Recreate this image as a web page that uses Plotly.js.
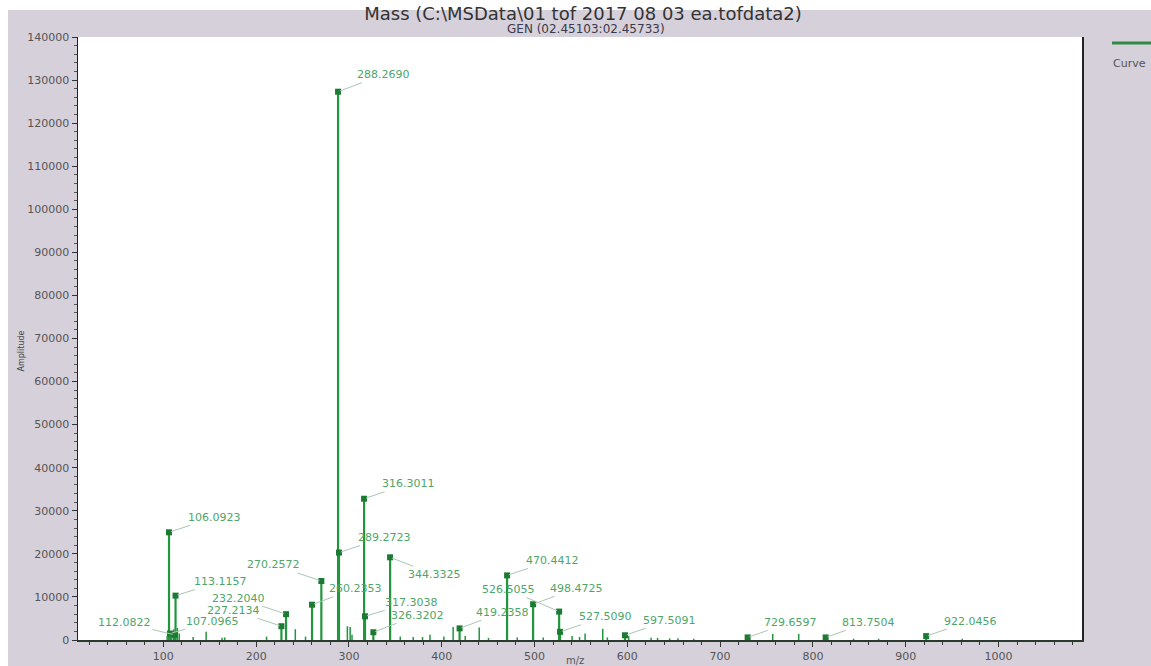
<!DOCTYPE html>
<html>
<head>
<meta charset="utf-8">
<script src="https://cdn.plot.ly/plotly-3.0.1.min.js"></script>
<style>
  html, body { margin: 0; padding: 0; background: #ffffff; }
  #chart { width: 1151px; height: 666px; }
</style>
</head>
<body>
<div id="chart"></div>
<script>
// ---- Data ----
const labelledMz = [106.0923, 107.0965, 112.0822, 113.1157, 227.2134, 232.2040, 260.2353, 270.2572,
  288.2690, 289.2723, 316.3011, 317.3038, 326.3202, 344.3325, 419.2358, 470.4412,
  498.4725, 526.5055, 527.5090, 597.5091, 729.6597, 813.7504, 922.0456];
const labelledAmp = [25000, 1500, 1200, 10300, 3200, 6000, 8200, 13700,
  127300, 20300, 32800, 5500, 1800, 19200, 2700, 15000,
  8300, 6600, 1900, 1100, 600, 600, 900];

const otherMz = [104.1, 109.1, 111.1, 115.1, 117.1, 132.1, 146.1, 163.2, 166.2, 211.2, 242.2, 253.2,
  298.3, 301.3, 303.3, 355.3, 369.3, 379.3, 387.3, 402.3, 412.3, 425.3, 440.4, 450.4,
  481.4, 509.4, 540.5, 548.5, 554.5, 573.5, 578.5, 601.5, 625.6, 632.6, 645.6, 654.6,
  671.6, 756.7, 784.7, 843.8, 870.8, 960.9];
const otherAmp = [900, 1500, 2500, 2800, 1500, 700, 1900, 500, 600, 800, 2500, 800,
  3200, 3000, 1200, 800, 700, 700, 1200, 800, 3000, 900, 2900, 500,
  600, 600, 900, 700, 1500, 2600, 600, 900, 500, 500, 400, 400,
  300, 1400, 1400, 300, 300, 300];

const titleText = 'Mass (C:\\MSData\\01 tof 2017 08 03 ea.tofdata2)';
const subtitleText = 'GEN (02.45103:02.45733)';
const xTitle = 'm/z';
const yTitle = 'Amplitude';
const legendName = 'Curve';

// ---- Label placement (pixel offsets of each label relative to its peak) ----
const labelOffsets = [
  [45, -15], [43, -12], [-50, -12], [45, -14], [-48, -16], [-48, -16], [43, -16], [-48, -16],
  [45, -17], [45, -15], [44, -15], [46, -14], [44, -17], [44, 17], [43, -16], [45, -15],
  [43, -16], [-51, -22], [45, -15], [44, -15], [43, -15], [43, -15], [44, -15]
];

function stems(xs, ys) {
  const sx = [], sy = [];
  xs.forEach((x, i) => { sx.push(x, x, null); sy.push(0, ys[i], null); });
  return { x: sx, y: sy };
}

const s1 = stems(otherMz, otherAmp);
const s2 = stems(labelledMz, labelledAmp);

const green = '#22963c';
const traces = [
  { type: 'scatter', mode: 'lines', x: s1.x, y: s1.y, line: { color: green, width: 1.5 },
    showlegend: false, hoverinfo: 'skip', name: legendName },
  { type: 'scatter', mode: 'lines', x: s2.x, y: s2.y, line: { color: green, width: 2.2 },
    showlegend: false, hoverinfo: 'skip', name: legendName },
  { type: 'scatter', mode: 'markers', x: labelledMz, y: labelledAmp,
    marker: { symbol: 'square', size: 6, color: '#1d7a33' }, showlegend: false, name: legendName }
];

const P_L = 78, P_R = 1082, P_T = 37, P_B = 640;
const pw = P_R - P_L, ph = P_B - P_T;
const px = v => (v - P_L) / pw;
const py = v => (P_B - v) / ph;

const annotations = labelledMz.map((m, i) => ({
  x: m, y: labelledAmp[i], xref: 'x', yref: 'y',
  text: m.toFixed(4),
  showarrow: true, arrowhead: 0, arrowwidth: 1, arrowcolor: '#a9c7b2',
  ax: labelOffsets[i][0], ay: labelOffsets[i][1], standoff: 2,
  font: { family: 'DejaVu Sans', size: 11, color: '#4ea56a' }
}));

annotations.push(
  { xref: 'paper', yref: 'paper', x: px(586), y: py(29), text: subtitleText, showarrow: false,
    font: { family: 'DejaVu Sans', size: 12, color: '#3a3a4a' }, yanchor: 'middle' },
  { xref: 'paper', yref: 'paper', x: px(14), y: py(351), text: yTitle, showarrow: false, textangle: -90,
    font: { family: 'DejaVu Sans', size: 8, color: '#444' } },
  { xref: 'paper', yref: 'paper', x: px(575), y: py(653), yanchor: 'top', text: xTitle, showarrow: false,
    font: { family: 'DejaVu Sans', size: 10, color: '#555' } },
  { xref: 'paper', yref: 'paper', x: px(1111), y: py(55), xanchor: 'left', text: legendName, showarrow: false,
    font: { family: 'DejaVu Sans', size: 11, color: '#555' } }
);

const shapes = [
  { type: 'rect', xref: 'paper', yref: 'paper', x0: px(0), x1: px(1151), y0: py(10), y1: py(0),
    fillcolor: '#ffffff', line: { width: 0 }, layer: 'below' },
  { type: 'rect', xref: 'paper', yref: 'paper', x0: px(0), x1: px(8), y0: py(666), y1: py(0),
    fillcolor: '#ffffff', line: { width: 0 }, layer: 'below' },
  { type: 'line', xref: 'paper', yref: 'paper', x0: px(1112), x1: px(1151), y0: py(43), y1: py(43),
    line: { color: '#2f8a45', width: 3 } }
];

const layout = {
  width: 1151, height: 666,
  margin: { l: P_L, r: 1151 - P_R, t: P_T, b: 666 - P_B, pad: 0 },
  paper_bgcolor: '#d6d0da',
  plot_bgcolor: '#ffffff',
  title: { text: titleText, x: px(583), xref: 'paper', xanchor: 'center', y: 1 - 14 / 666, yref: 'container',
    yanchor: 'middle', font: { family: 'DejaVu Sans', size: 18, color: '#333' } },
  showlegend: false,
  xaxis: {
    range: [8, 1090], tick0: 0, dtick: 100, showgrid: false, zeroline: false,
    showline: true, linecolor: '#2b3a2e', linewidth: 1.5,
    ticks: 'outside', ticklen: 5, tickcolor: '#333', tickwidth: 1,
    minor: { dtick: 20, ticks: 'outside', ticklen: 3, tickcolor: '#333', showgrid: false },
    tickfont: { family: 'DejaVu Sans', size: 11, color: '#555' }
  },
  yaxis: {
    range: [0, 140000], tick0: 0, dtick: 10000, tickformat: 'd', showgrid: false, zeroline: false,
    showline: true, linecolor: '#222', linewidth: 1.5, mirror: true,
    ticks: 'outside', ticklen: 5, tickcolor: '#333', tickwidth: 1,
    minor: { dtick: 2000, ticks: 'outside', ticklen: 3, tickcolor: '#555', showgrid: false },
    tickfont: { family: 'DejaVu Sans', size: 11, color: '#555' }
  },
  annotations: annotations,
  shapes: shapes
};

Plotly.newPlot('chart', traces, layout, { displayModeBar: false, staticPlot: true });
</script>
</body>
</html>
